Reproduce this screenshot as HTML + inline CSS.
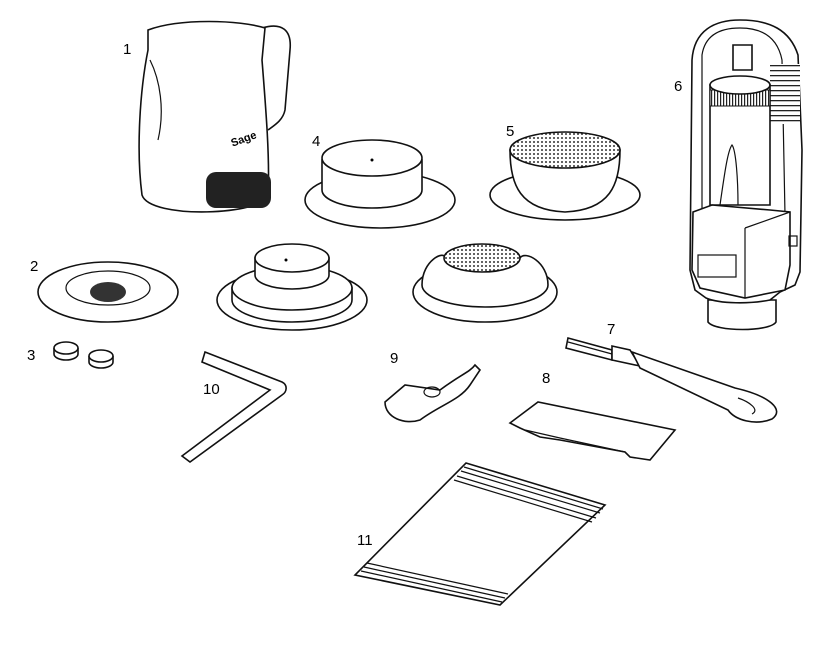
<!DOCTYPE html>
<html><head><meta charset="utf-8"><style>
html,body{margin:0;padding:0;background:#fff;}
svg{display:block;}
text{font-family:"Liberation Sans",sans-serif;font-size:15px;fill:#000;}
.s{fill:#fff;stroke:#111;stroke-width:1.6;}
.t{fill:none;stroke:#111;stroke-width:1.2;}
</style></head><body>
<svg width="821" height="645" viewBox="0 0 821 645">
<defs>
<pattern id="dots" width="4" height="4" patternUnits="userSpaceOnUse"><rect width="4" height="4" fill="#fff"/><circle cx="2" cy="2" r="1" fill="#333"/></pattern>
<pattern id="vl" width="3" height="10" patternUnits="userSpaceOnUse"><rect width="3" height="10" fill="#fff"/><rect width="1.2" height="10" fill="#222"/></pattern>
<pattern id="hl" width="10" height="5" patternUnits="userSpaceOnUse"><rect width="10" height="5" fill="#fff"/><rect width="10" height="1.3" fill="#222"/></pattern>
</defs>
<!-- 1 pitcher -->
<path class="s" d="M262,28 C282,22 292,30 290,50 L285,110 C283,120 275,125 268,130" />
<path class="s" d="M148,30 C180,18 240,20 265,28 L262,60 C266,110 270,160 268,195 C265,215 150,220 142,195 C136,150 140,90 148,50 Z"/>
<path class="t" d="M150,60 C160,80 165,110 158,140"/>
<rect x="206" y="172" width="65" height="36" rx="10" fill="#222"/>
<text x="232" y="144" style="font-size:11px;font-weight:bold" transform="rotate(-20 240 144)">Sage</text>
<!-- 2 -->
<ellipse class="s" cx="108" cy="292" rx="70" ry="30"/>
<ellipse class="t" cx="108" cy="288" rx="42" ry="17"/>
<ellipse cx="108" cy="292" rx="18" ry="10" fill="#333"/>
<!-- 3 -->
<path class="s" d="M54,348 L54,354 A12,6 0 0 0 78,354 L78,348"/><ellipse class="s" cx="66" cy="348" rx="12" ry="6"/>
<path class="s" d="M89,356 L89,362 A12,6 0 0 0 113,362 L113,356"/><ellipse class="s" cx="101" cy="356" rx="12" ry="6"/>
<!-- 4 -->
<ellipse class="s" cx="380" cy="200" rx="75" ry="28"/>
<path class="s" d="M322,160 L322,190 A50,18 0 0 0 422,190 L422,160 Z"/>
<ellipse class="s" cx="372" cy="158" rx="50" ry="18"/>
<circle cx="372" cy="160" r="1.5" fill="#000"/>
<!-- 5 -->
<ellipse class="s" cx="565" cy="195" rx="75" ry="25"/>
<path class="s" d="M510,150 C510,185 520,210 565,212 C610,210 620,185 620,150 Z"/>
<ellipse cx="565" cy="150" rx="55" ry="18" fill="url(#dots)" stroke="#111" stroke-width="1.6"/>
<!-- bottom left -->
<ellipse class="s" cx="292" cy="300" rx="75" ry="30"/>
<path class="s" d="M232,288 L232,300 A60,22 0 0 0 352,300 L352,288 Z"/>
<ellipse class="s" cx="292" cy="288" rx="60" ry="22"/>
<path class="s" d="M255,258 L255,275 A37,14 0 0 0 329,275 L329,258 Z"/>
<ellipse class="s" cx="292" cy="258" rx="37" ry="14"/>
<circle cx="286" cy="260" r="1.5" fill="#000"/>
<!-- bottom right -->
<ellipse class="s" cx="485" cy="292" rx="72" ry="30"/>
<path class="s" d="M422,285 C422,260 445,250 445,258 L520,258 C525,250 548,262 548,285 A63,22 0 0 1 422,285 Z"/>
<ellipse cx="482" cy="258" rx="38" ry="14" fill="url(#dots)" stroke="#111" stroke-width="1.6"/>
<!-- 6 tamper -->
<path class="s" d="M708,300 L708,322 C715,332 770,332 776,322 L776,300 Z"/>
<path class="s" d="M706,298 L695,290 L690,270 L692,60 C694,30 715,20 740,20 C770,20 790,30 798,55 L802,150 L800,272 L795,285 L780,292 L770,300 C750,304 720,304 706,298 Z"/>
<path class="t" d="M702,215 L702,55 C705,35 720,28 740,28 C765,28 778,40 782,60 L785,215"/>
<rect x="770" y="64" width="30" height="60" fill="url(#hl)"/>
<path class="s" d="M733,45 L733,70 L752,70 L752,45 Z"/>
<path class="s" d="M710,85 L710,205 L770,205 L770,85 Z"/>
<rect x="710" y="90" width="60" height="16" fill="url(#vl)" stroke="#111" stroke-width="1"/>
<ellipse class="s" cx="740" cy="85" rx="30" ry="9"/>
<path class="t" d="M720,205 C725,170 728,150 732,145 C736,150 738,180 738,205"/>
<path class="s" d="M693,212 L712,205 L770,210 L790,212 L790,265 L785,290 L745,298 L700,288 L692,270 Z"/>
<path class="t" d="M745,228 L745,298 M745,228 L790,212"/>
<rect class="t" x="698" y="255" width="38" height="22"/>
<rect class="t" x="789" y="236" width="8" height="10"/>
<!-- 7 brush -->
<path class="s" d="M568,338 L612,350 L612,360 L566,348 Z"/>
<path class="t" d="M568,342 L612,354"/>
<path class="s" d="M612,346 L630,350 L640,366 L612,360 Z"/>
<path class="s" d="M632,352 L735,388 C770,396 785,410 772,419 C755,426 735,420 728,410 L640,368 Z"/>
<path class="t" d="M738,398 C750,402 760,410 752,414"/>
<!-- 8 card -->
<path class="s" d="M510,423 L538,402 L675,430 L650,460 L630,457 L625,452 L560,440 L540,437 L520,428 Z"/>
<path class="t" d="M525,430 L560,438 L625,452"/>
<!-- 9 -->
<path class="s" d="M385,402 L405,385 L440,390 C460,375 470,372 475,365 L480,370 L470,385 C460,400 440,405 420,420 C405,425 385,418 385,402 Z"/>
<ellipse class="t" cx="432" cy="392" rx="8" ry="5"/>
<!-- 10 wrench -->
<path class="s" d="M205,352 L282,382 C288,385 287,392 282,395 L190,462 L182,456 L270,390 L202,362 Z"/>
<!-- 11 bag -->
<path class="s" d="M466,463 L605,505 L500,605 L355,575 Z"/>
<path class="t" d="M464,467 L603,509 M461,471 L600,513 M457,476 L596,518 M454,480 L592,522 M367,563 L508,594 M364,567 L505,598 M361,571 L502,602"/>
<!-- labels -->
<text x="123" y="54">1</text>
<text x="30" y="271">2</text>
<text x="27" y="360">3</text>
<text x="312" y="146">4</text>
<text x="506" y="136">5</text>
<text x="674" y="91">6</text>
<text x="607" y="334">7</text>
<text x="542" y="383">8</text>
<text x="390" y="363">9</text>
<text x="203" y="394">10</text>
<text x="357" y="545">11</text>
</svg>
</body></html>
